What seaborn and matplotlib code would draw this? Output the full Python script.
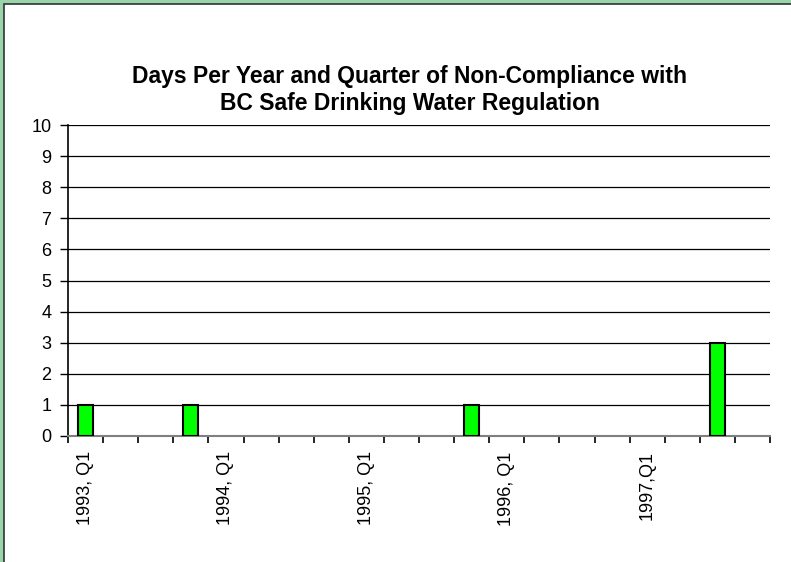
import matplotlib
matplotlib.use("Agg")
import matplotlib.pyplot as plt
import seaborn as sns
import pandas as pd
from matplotlib.patches import Rectangle

# data: one value per quarter, 1993 Q1 .. 1997 Q4
years = [1993, 1994, 1995, 1996, 1997]
quarters = ["Q1", "Q2", "Q3", "Q4"]
categories = [f"{y}, {q}" for y in years for q in quarters]
days = [1, 0, 0, 1,
        0, 0, 0, 0,
        0, 0, 0, 1,
        0, 0, 0, 0,
        0, 0, 3, 0]
shown_labels = ["1993, Q1", "1994, Q1", "1995, Q1", "1996, Q1", "1997,Q1"]
title = "Days Per Year and Quarter of Non-Compliance with\nBC Safe Drinking Water Regulation"

df = pd.DataFrame({"quarter": categories, "days": days})

sns.set_style("white")
plt.rcParams["font.family"] = ["Liberation Sans", "DejaVu Sans"]
plt.rcParams["text.color"] = "black"
plt.rcParams["xtick.color"] = "black"
plt.rcParams["ytick.color"] = "black"

fig = plt.figure(figsize=(7.91, 5.62), dpi=100)

# green frame on top/left, chart area with a dark edge
W, H = 791, 562
fig.patches.append(Rectangle((0, 0), 1, 1, transform=fig.transFigure,
                             facecolor="#99d5aa", edgecolor="none", zorder=-3))
fig.patches.append(Rectangle((3.5 / W, -0.1), 1.2, 1 - 3.5 / H + 0.1,
                             transform=fig.transFigure, facecolor="white",
                             edgecolor="#333333", linewidth=1.2, zorder=-2))

ax = fig.add_axes([68 / W, 1 - 436 / H, (770 - 68) / W, (436 - 125) / H])
ax.set_facecolor("none")

sns.barplot(data=df, x="quarter", y="days", color="#00ff00", width=0.43,
            edgecolor="black", linewidth=1.5, saturation=1, ax=ax, zorder=3)

# no outline for empty quarters
for p in ax.patches:
    if p.get_height() == 0:
        p.set_visible(False)

ax.set_xlim(-0.5, len(categories) - 0.5)
ax.set_ylim(0, 10)
ax.set_yticks(range(0, 11))
ax.yaxis.grid(True, color="black", linewidth=0.9)
ax.set_axisbelow(True)

# labels only on every 4th quarter, tick marks between categories
major = [categories.index(c) for c in ["1993, Q1", "1994, Q1", "1995, Q1", "1996, Q1", "1997, Q1"]]
ax.set_xticks(major)
ax.set_xticklabels(shown_labels, rotation=90, fontsize=13)
ax.set_xticks([i - 0.5 for i in range(len(categories) + 1)], minor=True)
ax.tick_params(axis="x", which="major", bottom=True, length=0, pad=11)
ax.tick_params(axis="x", which="minor", bottom=True, length=5, width=1.2,
               color="black", direction="out")
ax.tick_params(axis="y", left=True, length=6, width=1, color="black",
               labelsize=13, pad=6, direction="out")
ax.set_xlabel("")
ax.set_ylabel("")

for s in ["top", "right"]:
    ax.spines[s].set_visible(False)
ax.spines["left"].set_color("black")
ax.spines["left"].set_linewidth(1.2)
ax.spines["bottom"].set_color("#808080")
ax.spines["bottom"].set_linewidth(1.5)

fig.text(0.518, 1 - 90 / H, title, ha="center", va="center",
         fontsize=16.5, fontweight="bold", linespacing=1.2)

fig.savefig("out.png", dpi=100)
